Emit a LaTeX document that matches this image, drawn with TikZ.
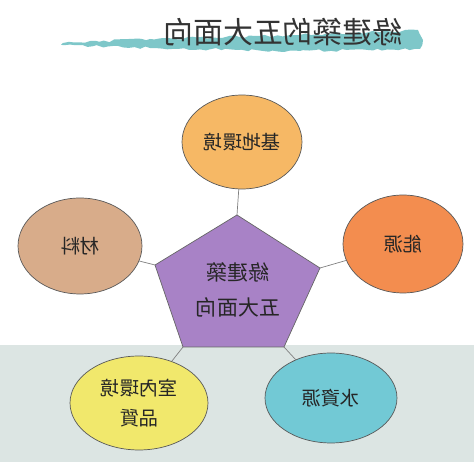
\documentclass[tikz,border=0pt]{standalone}
\usepackage{xcolor}
\usepackage{fontspec}
\newfontfamily\cjk{Noto Sans CJK TC}
\usepackage{tikz}
\usetikzlibrary{shapes.geometric}
\usetikzlibrary{decorations.pathmorphing}

\definecolor{band}{HTML}{DCE5E3}
\definecolor{brush}{HTML}{7EC7C9}
\definecolor{sand}{HTML}{D8AC8A}
\definecolor{apricot}{HTML}{F6B865}
\definecolor{tangerine}{HTML}{F38D4F}
\definecolor{lemon}{HTML}{F1E86C}
\definecolor{aqua}{HTML}{72C9D5}
\definecolor{lilac}{HTML}{A882C6}

\begin{document}
\begin{tikzpicture}[x=0.02cm,y=-0.02cm]
    \tikzstyle{bubble}=[ellipse,draw=black!65,thin,inner sep=0pt,xscale=-1,align=center,text=black!85,font=\cjk\fontsize{11}{17}\selectfont]
    \tikzstyle{connector}=[thin,color=black!50]
    \tikzstyle{heading}=[xscale=-1,text=black!80,font=\cjk\fontsize{17}{20}\selectfont]
    \tikzstyle{core text}=[xscale=-1,align=center,text=black!85,font=\cjk\fontsize{12}{20}\selectfont]

    \useasboundingbox (0,0) rectangle (474,462);

    % Background
    \fill[band] (0,345) rectangle (474,462);

    % Title
    \fill[brush,decorate,decoration={random steps,segment length=3pt,amplitude=0.8pt}]
        (63,43) -- (150,39) -- (300,35) -- (418,30) -- (423,40) -- (420,49)
        -- (300,51) -- (150,48) -- (63,45) -- cycle;
    \node[style=heading] (title) at (283,32) {綠建築的五大面向};

    % Pentagon corners
    \coordinate (p1) at (237,215);
    \coordinate (p2) at (320,268);
    \coordinate (p3) at (284,347);
    \coordinate (p4) at (183,347);
    \coordinate (p5) at (155,265);

    % Bubbles
    \node[style=bubble,fill=apricot,minimum width=2.4cm,minimum height=1.88cm] (base) at (242,142) {基地環境};
    \node[style=bubble,fill=sand,minimum width=2.48cm,minimum height=1.92cm] (material) at (80,246) {材料};
    \node[style=bubble,fill=tangerine,minimum width=2.4cm,minimum height=1.96cm] (energy) at (403,244) {能源};
    \node[style=bubble,fill=lemon,minimum width=2.76cm,minimum height=1.88cm] (indoor) at (139,403) {室內環境\\品質};
    \node[style=bubble,fill=aqua,minimum width=2.64cm,minimum height=1.8cm] (water) at (331,398) {水資源};

    % Connectors
    \draw[style=connector] (p1) -- (base);
    \draw[style=connector] (p5) -- (material);
    \draw[style=connector] (p2) -- (energy);
    \draw[style=connector] (p4) -- (indoor);
    \draw[style=connector] (p3) -- (water);

    % Centre
    \filldraw[fill=lilac,draw=black!60,thin] (p1) -- (p2) -- (p3) -- (p4) -- (p5) -- cycle;
    \node[style=core text] (core) at (238,290) {綠建築\\五大面向};
\end{tikzpicture}
\end{document}
